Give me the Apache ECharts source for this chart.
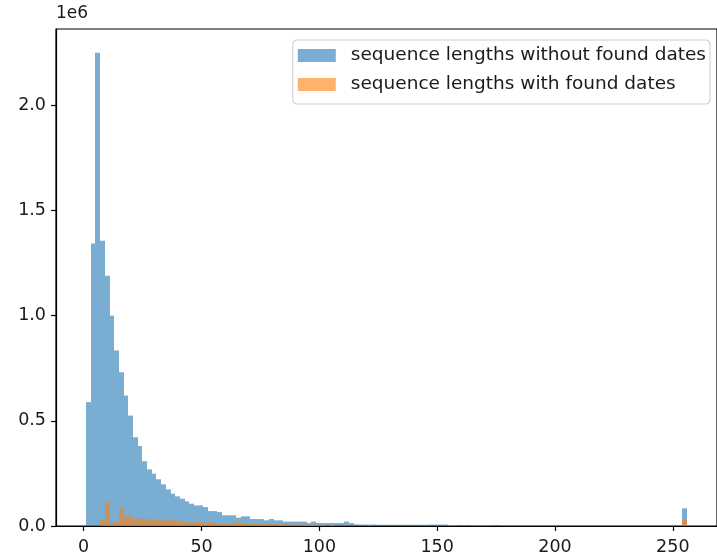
<!DOCTYPE html>
<html>
<head>
<meta charset="utf-8">
<script src="https://cdn.jsdelivr.net/npm/echarts@6/dist/echarts.min.js"></script>
<style>
  html, body { margin: 0; padding: 0; background: #fff; }
  #chart { width: 717px; height: 557px; }
</style>
</head>
<body>
<div id="chart"></div>
<script>
// Histogram of sequence lengths: 128 equal bins spanning lengths 1..256
const binStart = 1;
const binEnd = 256;

// Counts per bin, sequences without found dates
const countsWithout = [
  589000, 1343000, 2250000, 1356000, 1190000, 1000000, 834000, 731000, 620000, 525000,
  422000, 380000, 308000, 269000, 249000, 222000, 198000, 174000, 154000, 141000,
  130000, 117000, 106000, 98000, 98000, 90000, 71000, 71000, 66000, 51000,
  51000, 51000, 40000, 46000, 46000, 33000, 33000, 33000, 27000, 33000,
  27000, 27000, 21000, 21000, 21000, 21000, 21000, 14000, 21000, 14000,
  14000, 14000, 14000, 14000, 14000, 21000, 14000,
  8000, 7000, 7000, 7000, 7000, 6000, 6000, 6000, 6000, 6000,
  6000, 6000, 6000, 6000, 6000, 6000, 7000, 7000, 7000, 7000,
  0, 0, 5000, 0, 4000, 0, 0, 0, 0, 0, 5000,
  0, 0, 0, 0, 0, 0, 0, 0, 0, 0,
  0, 0, 0, 0, 0, 0, 0, 0, 0, 0,
  0, 0, 0, 0, 0, 0, 0, 0, 0, 0,
  0, 0, 0, 0, 0, 0, 0, 0, 0,
  84000
];

// Counts per bin, sequences with found dates
const countsWith = [
  0, 0, 0, 27000, 114000, 14000, 22000, 83000, 46000, 46000,
  32000, 38000, 32000, 32000, 32000, 27000, 27000, 27000, 27000, 27000,
  19000, 19000, 11000, 19000, 19000, 11000, 19000, 11000, 11000, 11000,
  11000, 11000, 19000, 11000, 11000, 11000,
  10000, 10000, 9000, 9000, 9000, 8000, 8000, 8000, 7000, 7000,
  7000, 6000, 6000, 6000, 6000,
  0, 5000, 0, 0, 0, 0, 0, 0, 0, 4000,
  0, 0, 0, 0, 0, 0, 0, 0, 0, 0,
  0, 0, 0, 0, 0, 0, 0, 0, 0, 0,
  0, 0, 0, 0, 0, 0, 0, 0, 0, 0,
  0, 0, 0, 0, 0, 0, 0, 0, 0, 0,
  0, 0, 0, 0, 0, 0, 0, 0, 0, 0,
  0, 0, 0, 0, 0, 0, 0, 0, 0, 0,
  0, 0, 0, 0, 0, 0,
  30000
];

const seriesNames = ['sequence lengths without found dates', 'sequence lengths with found dates'];
const xTicks = [0, 50, 100, 150, 200, 250];
const yTicks = [0, 500000, 1000000, 1500000, 2000000];

const binWidth = (binEnd - binStart) / countsWithout.length;

function toBins(counts) {
  return counts.map((c, i) => [binStart + i * binWidth, binStart + (i + 1) * binWidth, c]);
}

// One rectangle per bin, edges snapped to whole pixels so neighbours meet cleanly
function renderBar(params, api) {
  const v = api.value(2);
  if (!v) return null;
  const p0 = api.coord([api.value(0), v]);
  const p1 = api.coord([api.value(1), 0]);
  const x0 = Math.round(p0[0]);
  const x1 = Math.round(p1[0]);
  return {
    type: 'rect',
    shape: { x: x0, y: p0[1], width: x1 - x0, height: p1[1] - p0[1] },
    style: api.style()
  };
}

// matplotlib-style 5% margins around the data range
const span = binEnd - binStart;
const xMin = binStart - 0.05 * span;
const xMax = binEnd + 0.05 * span;
const yMax = 1.05 * Math.max(...countsWithout);

const FONT = 'DejaVu Sans';
const TEXT = '#1a1a1a';

const chart = echarts.init(document.getElementById('chart'), null, { renderer: 'canvas' });
chart.setOption({
  animation: false,
  backgroundColor: '#ffffff',
  grid: {
    left: 56, top: 29, width: 669, height: 497,
    show: true, borderColor: '#000', borderWidth: 1.2, backgroundColor: 'transparent'
  },
  xAxis: {
    type: 'value', min: xMin, max: xMax,
    splitLine: { show: false },
    axisLine: { show: true, onZero: false, lineStyle: { color: '#000', width: 1.2 } },
    axisTick: { show: true, length: 5, lineStyle: { color: '#000', width: 1.2 }, customValues: xTicks },
    axisLabel: { customValues: xTicks, color: TEXT, fontFamily: FONT, fontSize: 17.5, margin: 12 }
  },
  yAxis: {
    type: 'value', min: 0, max: yMax,
    splitLine: { show: false },
    axisLine: { show: true, onZero: false, lineStyle: { color: '#000', width: 1.2 } },
    axisTick: { show: true, length: 5, lineStyle: { color: '#000', width: 1.2 }, customValues: yTicks },
    axisLabel: {
      customValues: yTicks, color: TEXT, fontFamily: FONT, fontSize: 17.5, margin: 10,
      formatter: v => (v / 1e6).toFixed(1)
    }
  },
  legend: {
    orient: 'vertical', right: 7, top: 40,
    padding: [6, 4, 10, 5],
    itemWidth: 38, itemHeight: 13, itemGap: 10,
    backgroundColor: 'rgba(255,255,255,0.8)',
    borderColor: '#cccccc', borderWidth: 1, borderRadius: 4,
    icon: 'rect',
    textStyle: { color: TEXT, fontFamily: FONT, fontSize: 18.5, lineHeight: 18, padding: [0, 0, 0, 10] },
    data: [
      { name: seriesNames[0], itemStyle: { color: '#79add2', opacity: 1 } },
      { name: seriesNames[1], itemStyle: { color: '#ffb26e', opacity: 1 } }
    ]
  },
  graphic: [{
    type: 'text', left: 56, top: 5,
    style: { text: '1e6', fill: TEXT, font: '17px "DejaVu Sans"' }
  }],
  series: [
    {
      type: 'custom', name: seriesNames[0], renderItem: renderBar,
      itemStyle: { color: '#1f77b4', opacity: 0.6 },
      encode: { x: [0, 1], y: 2 },
      data: toBins(countsWithout), clip: true
    },
    {
      type: 'custom', name: seriesNames[1], renderItem: renderBar,
      itemStyle: { color: '#ff7f0e', opacity: 0.6 },
      encode: { x: [0, 1], y: 2 },
      data: toBins(countsWith), clip: true
    }
  ]
});
</script>
</body>
</html>
